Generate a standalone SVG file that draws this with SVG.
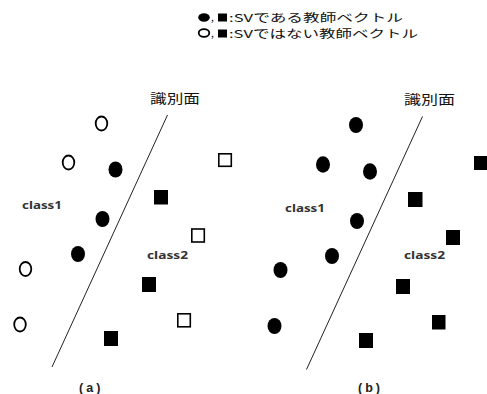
<svg xmlns="http://www.w3.org/2000/svg" width="487" height="394" viewBox="0 0 487 394">
<style>
.f{fill:#000}
.o{fill:#fff;stroke:#000;stroke-width:1.8}
.os{fill:#fff;stroke:#000;stroke-width:1.6}
.t{font-family:"Noto Sans CJK JP","Noto Sans",sans-serif;fill:#111}
.c{font-family:"Noto Sans","Liberation Sans",sans-serif;font-weight:bold;font-size:11px;fill:#333}
.p{font-family:"Liberation Sans",Arial,sans-serif;font-weight:bold;font-size:12.5px;fill:#222}
.ln{stroke:#222;stroke-width:1;fill:none}
</style>
<rect width="487" height="394" fill="#fff"/>
<g id="legend">
<ellipse class="f" cx="204" cy="17.5" rx="5.8" ry="4.2"/>
<text class="t" x="211" y="21" font-size="10">,</text>
<rect class="f" x="218" y="13.5" width="9" height="8"/>
<text class="t" x="229" y="21.5" font-size="11" textLength="174" lengthAdjust="spacingAndGlyphs">:SVである教師ベクトル</text>
<ellipse class="o" cx="204" cy="33" rx="5.3" ry="3.8" stroke-width="1.3"/>
<text class="t" x="211" y="37" font-size="10">,</text>
<rect class="f" x="218" y="29.5" width="9" height="8"/>
<text class="t" x="229" y="37.5" font-size="11" textLength="189" lengthAdjust="spacingAndGlyphs">:SVではない教師ベクトル</text>
</g>
<g id="connectors">
<line class="ln" x1="167.5" y1="115" x2="52" y2="367"/>
<line class="ln" x1="422.5" y1="116.5" x2="306.5" y2="369.5"/>
</g>
<g id="panel-a">
<text class="t" x="150" y="103" font-size="13" textLength="50" lengthAdjust="spacingAndGlyphs">識別面</text>
<ellipse class="o" cx="101.5" cy="123.5" rx="5.8" ry="7"/>
<ellipse class="o" cx="68.5" cy="162.5" rx="5.8" ry="7"/>
<ellipse class="o" cx="25.5" cy="269" rx="5.8" ry="7"/>
<ellipse class="o" cx="20" cy="324.5" rx="5.8" ry="7"/>
<ellipse class="f" cx="115.5" cy="169.5" rx="7" ry="8"/>
<ellipse class="f" cx="102.5" cy="219" rx="7" ry="8"/>
<ellipse class="f" cx="78" cy="254" rx="7" ry="8"/>
<rect class="os" x="218.8" y="153.8" width="12.5" height="12.5"/>
<rect class="f" x="154" y="190" width="14" height="14.5"/>
<rect class="os" x="191.8" y="229" width="12.5" height="13"/>
<rect class="f" x="142" y="277" width="14" height="15"/>
<rect class="os" x="177.8" y="313.8" width="12.5" height="13"/>
<rect class="f" x="104" y="331" width="14" height="15"/>
<text class="c" x="22" y="209" textLength="40" lengthAdjust="spacingAndGlyphs">class1</text>
<text class="c" x="147" y="259" textLength="41" lengthAdjust="spacingAndGlyphs">class2</text>
<text class="p" x="79" y="392">(<tspan dx="3">a</tspan><tspan dx="3">)</tspan></text>
</g>
<g id="panel-b">
<text class="t" x="404" y="104" font-size="13" textLength="51" lengthAdjust="spacingAndGlyphs">識別面</text>
<ellipse class="f" cx="356" cy="125" rx="7" ry="8"/>
<ellipse class="f" cx="323" cy="164.5" rx="7" ry="8.3"/>
<ellipse class="f" cx="370" cy="171.5" rx="7" ry="8.3"/>
<ellipse class="f" cx="357" cy="221" rx="7" ry="8"/>
<ellipse class="f" cx="332" cy="256" rx="7" ry="8"/>
<ellipse class="f" cx="280.5" cy="270" rx="7" ry="8"/>
<ellipse class="f" cx="274.5" cy="326" rx="7" ry="8"/>
<rect class="f" x="474" y="156" width="14" height="14"/>
<rect class="f" x="408" y="192" width="14.5" height="15"/>
<rect class="f" x="446" y="230" width="14" height="15"/>
<rect class="f" x="396" y="279" width="14" height="15"/>
<rect class="f" x="432" y="315" width="13.5" height="14.5"/>
<rect class="f" x="359" y="333" width="14" height="15"/>
<text class="c" x="285" y="212" textLength="40" lengthAdjust="spacingAndGlyphs">class1</text>
<text class="c" x="404" y="259" textLength="41" lengthAdjust="spacingAndGlyphs">class2</text>
<text class="p" x="358" y="392">(<tspan dx="3">b</tspan><tspan dx="3">)</tspan></text>
</g>
</svg>
